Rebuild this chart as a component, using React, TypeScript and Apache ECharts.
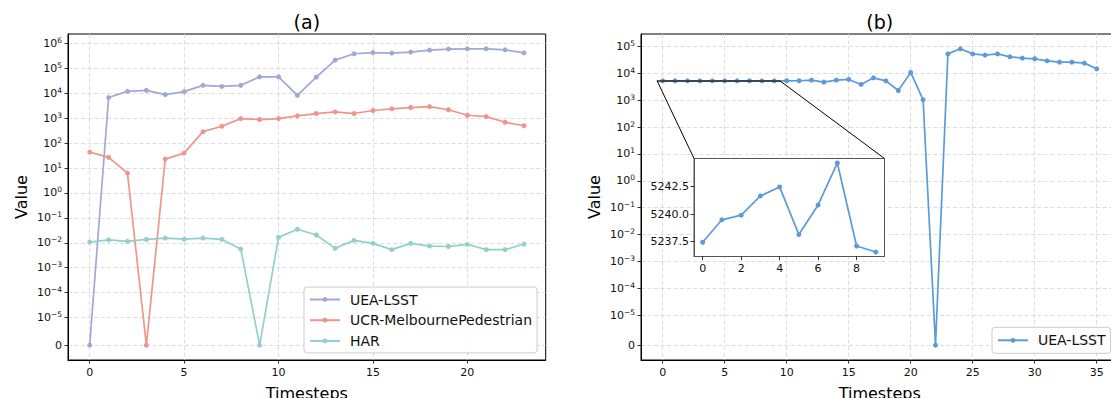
import React, { useEffect, useRef } from 'react';
import * as echarts from 'echarts';

// ---------- data ----------
const stepsA = [0, 1, 2, 3, 4, 5, 6, 7, 8, 9, 10, 11, 12, 13, 14, 15, 16, 17, 18, 19, 20, 21, 22, 23];
const ueaLsstA = [0, 6800, 12000, 13200, 8900, 11700, 21000, 19000, 21000, 46000, 46000, 8300, 45000, 217000, 390000, 435000, 415000, 455000, 545000, 600000, 615000, 615000, 560000, 425000];
const melbourneA = [44, 27, 6.3, 0, 23, 40, 290, 480, 970, 890, 970, 1250, 1550, 1800, 1550, 2050, 2400, 2700, 2950, 2200, 1320, 1170, 690, 500];
const harA = [0.0107, 0.0132, 0.0114, 0.0137, 0.0155, 0.014, 0.0155, 0.0137, 0.0056, 0, 0.0165, 0.035, 0.0205, 0.006, 0.0125, 0.0095, 0.0053, 0.0095, 0.0074, 0.0071, 0.0087, 0.0053, 0.0053, 0.0089];

const stepsB = [0, 1, 2, 3, 4, 5, 6, 7, 8, 9, 10, 11, 12, 13, 14, 15, 16, 17, 18, 19, 20, 21, 22, 23, 24, 25, 26, 27, 28, 29, 30, 31, 32, 33, 34, 35];
const ueaLsstB = [5237.44, 5239.48, 5239.9, 5241.65, 5242.47, 5238.14, 5240.83, 5244.65, 5237.1, 5236.55, 5250, 5260, 5550, 4670, 5550, 5880, 3840, 6770, 5240, 2290, 10700, 1030, 0, 52400, 81000, 52400, 47300, 52400, 40900, 36500, 34500, 29000, 25900, 25900, 23800, 14600];
const insetCount = 10;

const yTicksA = [0, 1e-5, 1e-4, 1e-3, 1e-2, 1e-1, 1, 10, 100, 1e3, 1e4, 1e5, 1e6];
const yTicksB = [0, 1e-5, 1e-4, 1e-3, 1e-2, 1e-1, 1, 10, 100, 1e3, 1e4, 1e5];
const xTicksA = [0, 5, 10, 15, 20];
const xTicksB = [0, 5, 10, 15, 20, 25, 30, 35];
const xTicksInset = [0, 2, 4, 6, 8];
const yTicksInset = [5237.5, 5240.0, 5242.5];

const COLORS = { uea: '#a0a8d8', melb: '#ef958b', har: '#91d0cb', ueaB: '#5c9bd8' };
const FONT = 'DejaVu Sans';

// symlog transform (linthresh 1e-5, linscale 1, base 10) like matplotlib
const LINTHRESH = 1e-5;
const LINADJ = 1 / (1 - 1 / 10);
const symlog = (v: number) =>
  v <= 0 ? 0 : v < LINTHRESH ? (v / LINTHRESH) * LINADJ : LINADJ + Math.log10(v / LINTHRESH);

const pad = (lo: number, hi: number) => {
  const d = (hi - lo) * 0.05;
  return [lo - d, hi + d];
};

const supLabel = (ticks: number[]) => (t: number) => {
  let best = ticks[0];
  let bd = Infinity;
  for (const v of ticks) {
    const d = Math.abs(symlog(v) - t);
    if (d < bd) { bd = d; best = v; }
  }
  if (best === 0) return '0';
  const e = Math.round(Math.log10(best));
  const es = e < 0 ? '\u2212' + Math.abs(e) : String(e);
  return `{b|10}{s|${es}}`;
};

const labelRich = {
  b: { fontSize: 11, lineHeight: 14, fontFamily: FONT, color: '#111' },
  s: { fontSize: 7.5, lineHeight: 8, verticalAlign: 'top', fontFamily: FONT, color: '#111' },
};

const axisLineCfg = { show: true, onZero: false, lineStyle: { color: '#000', width: 1 } };
const tickCfg = (vals: number[]) => ({ show: true, length: 3.5, customValues: vals, lineStyle: { color: '#000', width: 0.8 } });
const splitCfg = { show: true, lineStyle: { color: '#d4d4d4', type: [4, 2.5], width: 0.8 } };
const nameStyle = { fontSize: 16, fontFamily: FONT, color: '#000' };

export default function App() {
  const ref = useRef<HTMLDivElement>(null);
  useEffect(() => {
    if (!ref.current) return;
    const chart = echarts.init(ref.current, undefined, { renderer: 'svg' });

    const xA = pad(Math.min(...stepsA), Math.max(...stepsA));
    const yA = pad(0, Math.max(...[...ueaLsstA, ...melbourneA, ...harA].map((v) => symlog(v))));
    const xB = pad(Math.min(...stepsB), Math.max(...stepsB));
    const yB = pad(0, Math.max(...ueaLsstB.map((v) => symlog(v))));
    const insetSteps = stepsB.slice(0, insetCount);
    const insetVals = ueaLsstB.slice(0, insetCount);
    const xI = pad(Math.min(...insetSteps), Math.max(...insetSteps));
    const yI = pad(Math.min(...insetVals), Math.max(...insetVals));

    const lineSeries = (name: string, steps: number[], vals: number[], color: string, idx: number, transform: boolean, z = 2) => ({
      name,
      type: 'line',
      xAxisIndex: idx,
      yAxisIndex: idx,
      data: vals.map((v, i) => [steps[i], transform ? symlog(v) : v]),
      symbol: 'circle',
      symbolSize: 5,
      lineStyle: { color, width: 1.7 },
      itemStyle: { color },
      z,
    });

    const legendBase = {
      orient: 'vertical',
      itemWidth: 30, itemHeight: 6,
      backgroundColor: 'rgba(255,255,255,0.85)', borderColor: '#cccccc', borderWidth: 1, borderRadius: 3,
      textStyle: { fontSize: 14, fontFamily: FONT, color: '#111', padding: [0, 0, 0, 5] },
      selectedMode: false,
    };

    const gridBase = { outerBoundsMode: 'none', containLabel: false };

    const option: any = {
      animation: false,
      backgroundColor: '#fff',
      grid: [
        { ...gridBase, left: 68, top: 34, width: 477.7, height: 326, show: true, borderColor: '#000', borderWidth: 1, backgroundColor: 'transparent' },
        { ...gridBase, left: 641, top: 34, width: 477.4, height: 326, show: true, borderColor: '#000', borderWidth: 1, backgroundColor: 'transparent' },
        { ...gridBase, left: 694, top: 158.5, width: 190.5, height: 98, show: true, borderColor: '#555', borderWidth: 1, backgroundColor: '#fff', z: 1 },
      ],
      xAxis: [
        {
          type: 'value', gridIndex: 0, min: xA[0], max: xA[1],
          axisLine: axisLineCfg, axisTick: tickCfg(xTicksA), splitLine: splitCfg,
          axisLabel: { customValues: xTicksA, fontSize: 11, fontFamily: FONT, color: '#111', margin: 7 },
          name: 'Timesteps', nameLocation: 'middle', nameGap: 25, nameTextStyle: nameStyle,
        },
        {
          type: 'value', gridIndex: 1, min: xB[0], max: xB[1],
          axisLine: axisLineCfg, axisTick: tickCfg(xTicksB), splitLine: splitCfg,
          axisLabel: { customValues: xTicksB, fontSize: 11, fontFamily: FONT, color: '#111', margin: 7 },
          name: 'Timesteps', nameLocation: 'middle', nameGap: 25, nameTextStyle: nameStyle,
        },
        {
          type: 'value', gridIndex: 2, min: xI[0], max: xI[1], z: 2,
          axisLine: { show: true, onZero: false, lineStyle: { color: '#555', width: 1 } },
          axisTick: tickCfg(xTicksInset), splitLine: { show: false },
          axisLabel: { customValues: xTicksInset, fontSize: 11, fontFamily: FONT, color: '#111', margin: 6 },
        },
      ],
      yAxis: [
        {
          type: 'value', gridIndex: 0, min: yA[0], max: yA[1],
          axisLine: axisLineCfg, axisTick: tickCfg(yTicksA.map((v) => symlog(v))), splitLine: splitCfg,
          axisLabel: { customValues: yTicksA.map((v) => symlog(v)), formatter: supLabel(yTicksA), rich: labelRich, fontSize: 11, fontFamily: FONT, color: '#111', margin: 6 },
          name: 'Value', nameLocation: 'middle', nameGap: 39, nameTextStyle: nameStyle,
        },
        {
          type: 'value', gridIndex: 1, min: yB[0], max: yB[1],
          axisLine: axisLineCfg, axisTick: tickCfg(yTicksB.map((v) => symlog(v))), splitLine: splitCfg,
          axisLabel: { customValues: yTicksB.map((v) => symlog(v)), formatter: supLabel(yTicksB), rich: labelRich, fontSize: 11, fontFamily: FONT, color: '#111', margin: 6 },
          name: 'Value', nameLocation: 'middle', nameGap: 39, nameTextStyle: nameStyle,
        },
        {
          type: 'value', gridIndex: 2, min: yI[0], max: yI[1], z: 2,
          axisLine: { show: true, onZero: false, lineStyle: { color: '#555', width: 1 } },
          axisTick: tickCfg(yTicksInset), splitLine: { show: false },
          axisLabel: { customValues: yTicksInset, formatter: (v: number) => v.toFixed(1), fontSize: 11, fontFamily: FONT, color: '#111', margin: 5 },
        },
      ],
      legend: [
        {
          ...legendBase,
          data: ['UEA-LSST', 'UCR-MelbournePedestrian', 'HAR'],
          left: 304, top: 287,
          itemGap: 6.7,
          padding: [5.5, 5, 5, 5],
        },
        {
          ...legendBase,
          data: ['UEA-LSST (b)'],
          formatter: () => 'UEA-LSST',
          left: 992, top: 327.3,
          itemGap: 6,
          padding: [6, 5, 6, 5],
        },
      ],
      series: [
        lineSeries('UEA-LSST', stepsA, ueaLsstA, COLORS.uea, 0, true),
        lineSeries('UCR-MelbournePedestrian', stepsA, melbourneA, COLORS.melb, 0, true),
        lineSeries('HAR', stepsA, harA, COLORS.har, 0, true),
        lineSeries('UEA-LSST (b)', stepsB, ueaLsstB, COLORS.ueaB, 1, true),
        lineSeries('inset', insetSteps, insetVals, COLORS.ueaB, 2, false, 3),
      ],
    };
    chart.setOption(option);

    const pMain = (x: number, y: number) => chart.convertToPixel({ xAxisIndex: 1, yAxisIndex: 1 } as any, [x, symlog(y)]) as number[];
    const pInset = (x: number, y: number) => chart.convertToPixel({ xAxisIndex: 2, yAxisIndex: 2 } as any, [x, y]) as number[];
    const rTL = pMain(xI[0], yI[1]);
    const rBR = pMain(xI[1], yI[0]);
    const rTR = pMain(xI[1], yI[1]);
    const iTL = pInset(xI[0], yI[1]);
    const iTR = pInset(xI[1], yI[1]);
    const gA = (chart as any).getModel().getComponent('grid', 0).coordinateSystem.getRect();
    const gB = (chart as any).getModel().getComponent('grid', 1).coordinateSystem.getRect();

    chart.setOption({
      graphic: [
        { type: 'text', x: gA.x + gA.width / 2, y: 21.5, style: { text: '(a)', font: `19px "${FONT}"`, fill: '#000', align: 'center', verticalAlign: 'middle' } },
        { type: 'text', x: gB.x + gB.width / 2, y: 21.5, style: { text: '(b)', font: `19px "${FONT}"`, fill: '#000', align: 'center', verticalAlign: 'middle' } },
        { type: 'rect', z: 10, shape: { x: rTL[0], y: rTL[1], width: rBR[0] - rTL[0], height: Math.max(0.5, rBR[1] - rTL[1]) }, style: { fill: 'none', stroke: '#333', lineWidth: 1 } },
        { type: 'line', z: 10, shape: { x1: rTL[0], y1: rTL[1], x2: iTL[0], y2: iTL[1] }, style: { stroke: '#000', lineWidth: 1 } },
        { type: 'line', z: 10, shape: { x1: rTR[0], y1: rTR[1], x2: iTR[0], y2: iTR[1] }, style: { stroke: '#000', lineWidth: 1 } },
      ],
    });

    return () => chart.dispose();
  }, []);
  return <div ref={ref} style={{ position: 'fixed', left: 0, top: 0, width: 1111, height: 398, background: '#fff' }} />;
}
